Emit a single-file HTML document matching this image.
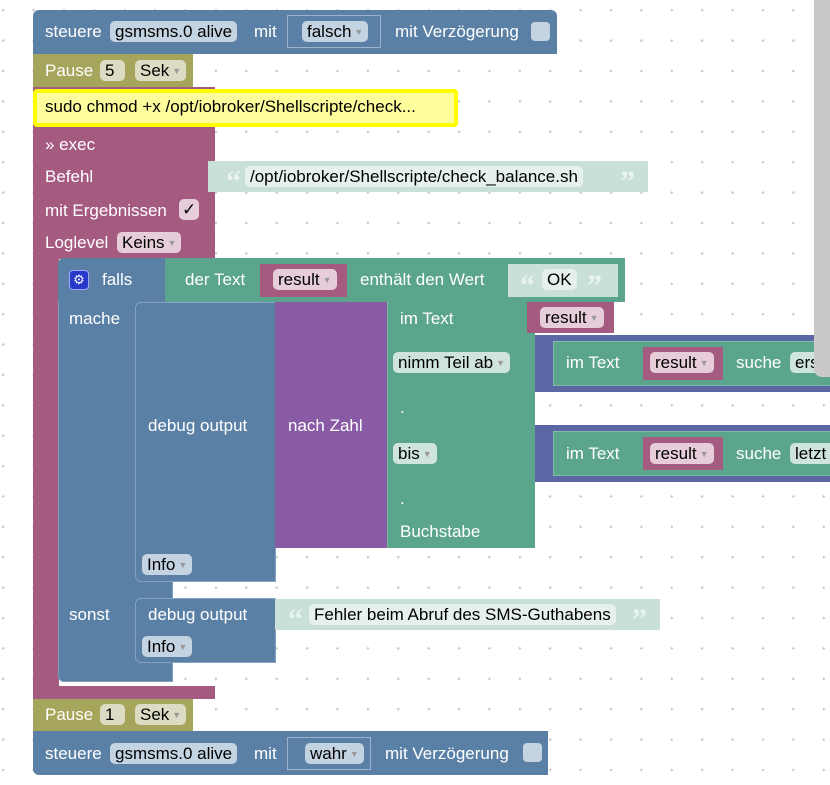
<!DOCTYPE html>
<html><head><meta charset="utf-8"><style>
html,body{margin:0;padding:0}
body{width:830px;height:785px;position:relative;overflow:hidden;background:#fff;
background-image:radial-gradient(circle,#c4c4c4 1px,transparent 1.3px);background-size:30.4px 30.4px;background-position:-12px -5px;
font-family:"Liberation Sans",sans-serif;font-size:17px;color:#fff}
.b{position:absolute;box-sizing:border-box}
.t{position:absolute;white-space:nowrap;line-height:20px}
.q{position:absolute;white-space:nowrap;line-height:20px;font-family:"Liberation Serif",serif;font-size:30px;font-weight:bold;color:#e9f3ef;top:0}
.f{position:absolute;box-sizing:border-box;border-radius:5px;color:#000;white-space:nowrap;line-height:21px;padding:0 5px;height:21px}
.blue{background:#5b80a5}.ol{background:#a5a55b}.mag{background:#a55b80}.gr{background:#5ba58c}.pu{background:#8a5ba5}.ib{background:#5b67a5}
.str{background:#c8e0d8}
.fb{background:#c4d3e2}.fm{background:#e6cdd9}.fo{background:#dcdcc4}.fg{background:#cfe4dc}
.ar{font-size:9px;color:#999;margin-left:3px;vertical-align:2px}
</style></head><body>
<div class="b" style="left:814px;top:0;width:16px;height:377px;background:#c9c9c9;border-bottom-left-radius:8px"></div>

<div class="b blue" style="left:33px;top:10px;width:524px;height:44px;border-radius:6px 6px 0 0"></div>
<div class="t" style="left:45px;top:22px">steuere</div>
<div class="f fb" style="left:110px;top:21px">gsmsms.0 alive</div>
<div class="t" style="left:254px;top:22px">mit</div>
<div class="b" style="left:287px;top:15px;width:94px;height:33px;border:1px solid #9bb3cc"></div>
<div class="f fb" style="left:302px;top:21px">falsch<span class="ar">▼</span></div>
<div class="t" style="left:395px;top:22px">mit Verzögerung</div>
<div class="b" style="left:531px;top:22px;width:19px;height:19px;background:#c4d3e2;border-radius:4px"></div>

<div class="b ol" style="left:33px;top:54px;width:160px;height:33px"></div>
<div class="t" style="left:45px;top:61px">Pause</div>
<div class="f fo" style="left:100px;top:60px;width:25px">5</div>
<div class="f fo" style="left:135px;top:60px">Sek<span class="ar">▼</span></div>

<div class="b mag" style="left:33px;top:87px;width:182px;height:172px"></div>
<div class="b mag" style="left:33px;top:250px;width:26px;height:440px"></div>
<div class="b mag" style="left:33px;top:686px;width:182px;height:13px"></div>
<div class="b" style="left:33px;top:89px;width:425px;height:38px;background:#fdfd9c;border:4px solid #ffff00;border-radius:4px"></div>
<div class="t" style="left:45px;top:97px;color:#000">sudo chmod +x /opt/iobroker/Shellscripte/check...</div>
<div class="t" style="left:45px;top:135px">» exec</div>
<div class="t" style="left:45px;top:167px">Befehl</div>
<div class="b str" style="left:208px;top:161px;width:440px;height:31px"></div>
<div class="q" style="left:226px;top:172px">“</div>
<div class="f" style="left:245px;top:166px;background:#e6f0ec">/opt/iobroker/Shellscripte/check_balance.sh</div>
<div class="q" style="left:620px;top:172px">”</div>
<div class="t" style="left:45px;top:201px">mit Ergebnissen</div>
<div class="f fm" style="left:179px;top:199px;width:20px;padding:0 3px">✓</div>
<div class="t" style="left:45px;top:233px">Loglevel</div>
<div class="f fm" style="left:117px;top:232px">Keins<span class="ar">▼</span></div>

<div class="b blue" style="left:58px;top:258px;width:115px;height:424px;border-radius:6px 0 0 6px;border:1px solid #7d9bbb"></div>
<div class="b blue" style="left:58px;top:258px;width:108px;height:44px;border-radius:6px 0 0 0"></div>
<div class="b" style="left:69px;top:270px;width:20px;height:20px;background:#2639c8;border:1px solid #9aa8ff;border-radius:4px;color:#fff;font-size:13px;text-align:center;line-height:18px">⚙</div>
<div class="t" style="left:102px;top:270px">falls</div>
<div class="t" style="left:69px;top:309px">mache</div>
<div class="t" style="left:69px;top:605px">sonst</div>

<div class="b gr" style="left:165px;top:258px;width:460px;height:44px"></div>
<div class="t" style="left:185px;top:270px">der Text</div>
<div class="b mag" style="left:260px;top:264px;width:87px;height:33px"></div>
<div class="f fm" style="left:273px;top:269px">result<span class="ar">▼</span></div>
<div class="t" style="left:360px;top:270px">enthält den Wert</div>
<div class="b str" style="left:508px;top:264px;width:110px;height:33px"></div>
<div class="q" style="left:520px;top:276px">“</div>
<div class="f" style="left:542px;top:269px;background:#e6f0ec">OK</div>
<div class="q" style="left:587px;top:276px">”</div>

<div class="b blue" style="left:135px;top:302px;width:141px;height:280px;border:1px solid #86a2c0;border-radius:6px 0 0 6px"></div>
<div class="t" style="left:148px;top:416px">debug output</div>
<div class="f fb" style="left:142px;top:554px">Info<span class="ar">▼</span></div>
<div class="b pu" style="left:275px;top:302px;width:113px;height:246px"></div>
<div class="t" style="left:288px;top:416px">nach Zahl</div>
<div class="b gr" style="left:387px;top:302px;width:148px;height:246px;border-left:1px solid #7fbca7"></div>
<div class="t" style="left:400px;top:309px">im Text</div>
<div class="b mag" style="left:527px;top:302px;width:87px;height:31px"></div>
<div class="f fm" style="left:540px;top:307px">result<span class="ar">▼</span></div>
<div class="f fg" style="left:393px;top:352px">nimm Teil ab<span class="ar">▼</span></div>
<div class="t" style="left:400px;top:398px">.</div>
<div class="f fg" style="left:393px;top:443px">bis<span class="ar">▼</span></div>
<div class="t" style="left:400px;top:489px">.</div>
<div class="t" style="left:400px;top:522px">Buchstabe</div>

<div class="b ib" style="left:535px;top:335px;width:295px;height:57px"></div>
<div class="b gr" style="left:553px;top:341px;width:277px;height:45px;border:1px solid #7fbca7;border-right:0"></div>
<div class="t" style="left:566px;top:353px">im Text</div>
<div class="b mag" style="left:643px;top:347px;width:80px;height:33px"></div>
<div class="f fm" style="left:650px;top:352px">result<span class="ar">▼</span></div>
<div class="t" style="left:736px;top:353px">suche</div>
<div class="f fg" style="left:790px;top:352px;width:40px;border-radius:5px 0 0 5px">ers</div>
<div class="b ib" style="left:535px;top:425px;width:295px;height:57px"></div>
<div class="b gr" style="left:553px;top:431px;width:277px;height:45px;border:1px solid #7fbca7;border-right:0"></div>
<div class="t" style="left:566px;top:444px">im Text</div>
<div class="b mag" style="left:643px;top:437px;width:80px;height:33px"></div>
<div class="f fm" style="left:650px;top:443px">result<span class="ar">▼</span></div>
<div class="t" style="left:736px;top:444px">suche</div>
<div class="f fg" style="left:790px;top:443px;width:40px;border-radius:5px 0 0 5px">letzt</div>
<div class="b" style="left:814px;top:335px;width:16px;height:42px;background:#c9c9c9;border-bottom-left-radius:8px"></div>

<div class="b blue" style="left:135px;top:598px;width:141px;height:65px;border:1px solid #86a2c0;border-radius:6px 0 0 6px"></div>
<div class="t" style="left:148px;top:605px">debug output</div>
<div class="f fb" style="left:142px;top:636px">Info<span class="ar">▼</span></div>
<div class="b str" style="left:275px;top:599px;width:385px;height:31px"></div>
<div class="q" style="left:288px;top:610px">“</div>
<div class="f" style="left:309px;top:604px;background:#e6f0ec">Fehler beim Abruf des SMS-Guthabens</div>
<div class="q" style="left:632px;top:610px">”</div>

<div class="b ol" style="left:33px;top:699px;width:160px;height:32px"></div>
<div class="t" style="left:45px;top:705px">Pause</div>
<div class="f fo" style="left:100px;top:704px;width:25px">1</div>
<div class="f fo" style="left:135px;top:704px">Sek<span class="ar">▼</span></div>

<div class="b blue" style="left:33px;top:731px;width:515px;height:44px;border-radius:0 0 0 6px"></div>
<div class="t" style="left:45px;top:744px">steuere</div>
<div class="f fb" style="left:110px;top:743px">gsmsms.0 alive</div>
<div class="t" style="left:254px;top:744px">mit</div>
<div class="b" style="left:287px;top:737px;width:84px;height:33px;border:1px solid #9bb3cc"></div>
<div class="f fb" style="left:305px;top:743px">wahr<span class="ar">▼</span></div>
<div class="t" style="left:385px;top:744px">mit Verzögerung</div>
<div class="b" style="left:523px;top:743px;width:19px;height:19px;background:#c4d3e2;border-radius:4px"></div>
</body></html>
